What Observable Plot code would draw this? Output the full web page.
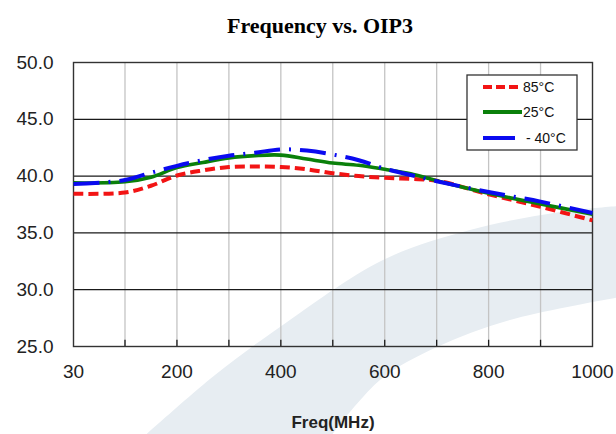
<!DOCTYPE html>
<html>
<head>
<meta charset="utf-8">
<script src="https://cdn.jsdelivr.net/npm/d3@7"></script>
<script src="https://cdn.jsdelivr.net/npm/@observablehq/plot@0.6"></script>
<style>
  html, body { margin: 0; padding: 0; background: #fff; }
  #chart { width: 616px; height: 434px; }
</style>
</head>
<body>
<div id="chart"></div>
<script>
// ---- data ----
const freqs   = [30, 100, 150, 200, 250, 300, 350, 400, 450, 500, 550, 600, 650, 700, 800, 900, 1000];
const oip85   = [38.45, 38.55, 39.15, 40.05, 40.5, 40.8, 40.85, 40.8, 40.6, 40.25, 40.0, 39.85, 39.75, 39.6, 38.4, 37.3, 36.1];
const oip25   = [39.4, 39.5, 39.9, 40.75, 41.2, 41.6, 41.8, 41.85, 41.5, 41.15, 40.95, 40.6, 40.2, 39.6, 38.5, 37.55, 36.65];
const oipM40  = [39.3, 39.65, 40.3, 40.9, 41.4, 41.8, 42.05, 42.35, 42.25, 41.9, 41.4, 40.65, 40.1, 39.55, 38.6, 37.75, 36.75];
const seriesNames = ["85°C", "25°C", "- 40°C"];
const xTicks = [30, 200, 400, 600, 800, 1000];
const xGrid  = [100, 200, 300, 400, 500, 600, 700, 800, 900];
const yTicks = [25, 30, 35, 40, 45, 50];
const yGrid  = [30, 35, 40, 45];
const title = "Frequency vs. OIP3";
const xLabel = "Freq(MHz)";

const colors = ["#f21414", "#0a800a", "#0a0af0"];
const dashes = ["10,5", null, "26,9,2,9"];

const seriesData = [oip85, oip25, oipM40].map((vals, s) =>
  freqs.map((f, i) => ({freq: f, oip: vals[i], series: seriesNames[s]})));

// background watermark swoosh (decoration only)
function swoosh() {
  const up = [[140, 440], [215, 375], [280, 327], [383, 260], [470, 230], [560, 212], [620, 206]];
  const lo = [[620, 297], [510, 320], [437, 347], [380, 380], [328, 440]];
  const ln = d3.line().curve(d3.curveCatmullRom);
  const d = ln(up) + "L" + ln(lo).slice(1) + "Z";
  const p = d3.create("svg:path").attr("d", d).attr("fill", "#e7edf2");
  return p.node();
}

// legend box (decoration)
function legend() {
  const g = d3.create("svg:g");
  g.append("rect").attr("x", 467).attr("y", 75).attr("width", 110).attr("height", 75)
    .attr("fill", "white").attr("stroke", "#333").attr("stroke-width", 1.3);
  const ys = [87, 112, 138];
  const x2 = [522, 522, 515];
  seriesNames.forEach((n, i) => {
    g.append("line").attr("x1", 483).attr("x2", x2[i]).attr("y1", ys[i]).attr("y2", ys[i])
      .attr("stroke", colors[i]).attr("stroke-width", 4)
      .attr("stroke-dasharray", i === 0 ? "9,4" : null);
    g.append("text").attr("x", i === 2 ? 526 : 523).attr("y", ys[i]).attr("dy", "0.35em")
      .attr("text-anchor", "start")
      .attr("font-family", "'Liberation Sans Narrow', 'Liberation Sans', Arial, sans-serif")
      .attr("font-size", 14).attr("fill", "#111").text(n);
  });
  return g.node();
}

const marks = [
  swoosh,
  Plot.ruleX(xGrid, {stroke: "#c4c4c4", strokeWidth: 1.3}),
  Plot.ruleY(yGrid, {stroke: "#1a1a1a", strokeWidth: 1.2}),
  Plot.ruleX(xGrid, {y1: 25, y2: 25.55, stroke: "#1a1a1a", strokeWidth: 1.3}),
  Plot.frame({stroke: "#333", strokeWidth: 1.4}),
  Plot.axisY({ticks: yTicks, tickFormat: d => d.toFixed(1), tickSize: 0, tickPadding: 20,
              fontSize: 19, fill: "#222", label: null}),
  Plot.axisX({ticks: xTicks, tickFormat: d => String(d), tickSize: 0, tickPadding: 18,
              fontSize: 19, fill: "#222", label: null}),
];
seriesData.forEach((d, i) => {
  marks.push(Plot.line(d, {x: "freq", y: "oip", stroke: colors[i], strokeWidth: i === 1 ? 3.6 : 4,
    strokeDasharray: dashes[i], curve: "catmull-rom", strokeLinecap: "butt"}));
});
marks.push(legend);
marks.push(Plot.text([title], {frameAnchor: "top", dy: -45, dx: -13, fontSize: 22, fontWeight: "bold",
  fontFamily: "'Liberation Serif', 'Times New Roman', serif", fill: "#000"}));
marks.push(Plot.text([xLabel], {frameAnchor: "bottom", dy: 81, fontSize: 17, fontWeight: "bold",
  fill: "#222"}));

const chart = Plot.plot({
  width: 616,
  height: 434,
  marginLeft: 73,
  marginRight: 24,
  marginTop: 62,
  marginBottom: 88,
  style: {fontFamily: "'Liberation Sans', Arial, sans-serif", background: "transparent"},
  x: {type: "linear", domain: [30, 100, 1000], range: [73, 124.5, 592]},
  y: {domain: [25, 50]},
  marks
});
document.getElementById("chart").appendChild(chart);
</script>
</body>
</html>
